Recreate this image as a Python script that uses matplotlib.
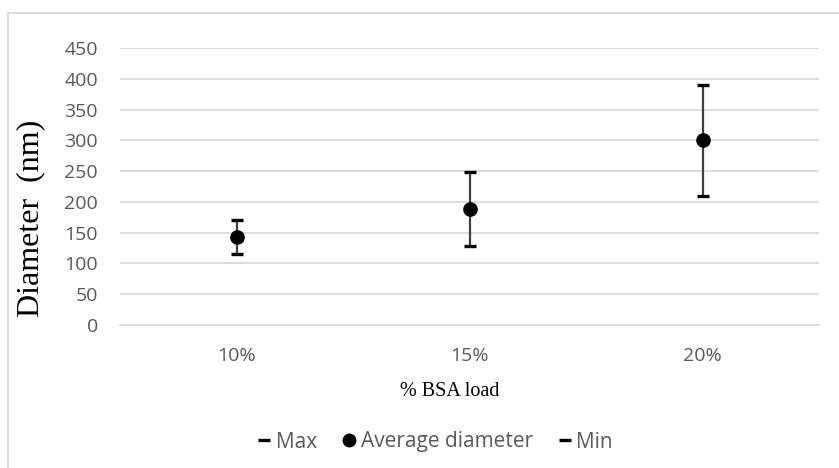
import matplotlib
matplotlib.use('Agg')
import matplotlib.pyplot as plt
from matplotlib.patches import Rectangle
from matplotlib.lines import Line2D

# data
loads = ['10%', '15%', '20%']
avg_diam = [143, 189, 300]
max_diam = [171, 249, 390]
min_diam = [116, 129, 210]

grey_txt = '#595959'
grid_col = '#d9d9d9'

plt.rcParams['font.family'] = ['Open Sans', 'DejaVu Sans']

fig = plt.figure(figsize=(8.39, 4.68), dpi=100)
ax = fig.add_axes([120 / 839, 1 - 325 / 468, 699 / 839, 277 / 468])

x = list(range(len(loads)))

# high-low line, then max / min dashes, then the average dots
ax.vlines(x, min_diam, max_diam, color='#404040', lw=1.6, zorder=3)
ax.plot(x, max_diam, ls='none', marker='_', ms=8.5, mew=2.4, color='black', zorder=4, label='Max')
ax.plot(x, avg_diam, ls='none', marker='o', ms=9.5, color='black', zorder=5, label='Average diameter')
ax.plot(x, min_diam, ls='none', marker='_', ms=8.5, mew=2.4, color='black', zorder=4, label='Min')

ax.set_xlim(-0.5, 2.5)
ax.set_ylim(0, 450)
ax.set_yticks(range(0, 451, 50))
ax.set_xticks(x)
ax.set_xticklabels(loads)
ax.grid(axis='y', color=grid_col, lw=1.3)
ax.set_axisbelow(True)
for s in ['top', 'right', 'left']:
    ax.spines[s].set_visible(False)
ax.spines['bottom'].set_color(grid_col)
ax.spines['bottom'].set_linewidth(1.3)
ax.tick_params(length=0, labelsize=14, colors=grey_txt)
ax.tick_params(axis='x', pad=16)
ax.tick_params(axis='y', pad=16)

fig.text(450 / 839, 1 - 391 / 468, '% BSA load', family='Liberation Serif', fontsize=14.5,
         color='black', ha='center', va='center')
fig.text(31 / 839, 1 - 218 / 468, 'Diameter  (nm)', family='Liberation Serif', fontsize=23,
         color='black', ha='center', va='center', rotation=90)

handles = [
    Line2D([], [], ls='none', marker='_', ms=8, mew=2.4, color='black'),
    Line2D([], [], ls='none', marker='o', ms=9, color='black'),
    Line2D([], [], ls='none', marker='_', ms=8, mew=2.4, color='black'),
]
leg = fig.legend(handles, ['Max', 'Average diameter', 'Min'], loc='center',
                 bbox_to_anchor=(436 / 839, 1 - 442 / 468), ncol=3, frameon=False,
                 fontsize=15, handlelength=0.5, handletextpad=0.3, columnspacing=1.3)
for t in leg.get_texts():
    t.set_color(grey_txt)

# chart area border
fig.patches.append(Rectangle((8 / 839, -0.1), 1.2, 1 - 13 / 468 + 0.1, transform=fig.transFigure,
                             fill=False, edgecolor=grid_col, lw=1.3))

fig.savefig('out.png', dpi=100)
